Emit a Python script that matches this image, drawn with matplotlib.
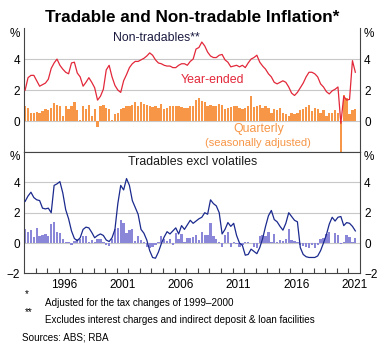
import numpy as np
import matplotlib.pyplot as plt

plt.rcParams['font.family'] = ['Liberation Sans', 'DejaVu Sans']

# quarterly data, 1993 Q1 to 2021 Q3
start_year = 1993
nt_ye = [2.0, 2.8, 2.95, 2.95, 2.6, 2.25, 2.35, 2.45, 2.7, 3.4, 3.75, 4.0,
         3.6, 3.35, 3.15, 3.05, 3.75, 3.8, 3.1, 2.85, 2.25, 2.5, 2.8, 2.5,
         2.15, 1.35, 1.6, 2.05, 3.3, 3.6, 2.85, 2.3, 2.0, 1.85, 2.6, 3.0,
         3.45, 3.7, 3.85, 3.85, 3.95, 4.05, 4.2, 4.4, 4.25, 3.95, 3.75, 3.7,
         3.6, 3.55, 3.55, 3.45, 3.45, 3.6, 3.7, 3.7, 3.6, 3.85, 4.0, 4.65,
         4.75, 5.1, 4.85, 4.45, 4.2, 4.1, 4.1, 4.25, 4.3, 3.95, 3.8, 3.5,
         3.55, 3.6, 3.5, 3.6, 3.45, 3.75, 4.0, 4.1, 4.25, 3.8, 3.55, 3.35,
         3.05, 2.85, 2.5, 2.4, 2.5, 2.6, 2.5, 2.2, 1.8, 1.65, 1.85, 2.15,
         2.45, 2.85, 3.15, 3.15, 3.05, 2.85, 2.4, 2.2, 1.9, 1.75, 1.95, 2.05,
         2.2, -0.15, 1.6, 1.35, 1.4, 3.9, 3.15]
nt_q = [0.95, 0.85, 0.55, 0.55, 0.6, 0.55, 0.65, 0.75, 0.7, 0.85, 1.15, 1.05,
        1.0, 0.35, 0.95, 0.8, 1.0, 1.2, 0.7, 0.05, 1.0, 0.8, 1.05, 0.35,
        0.8, -0.4, 1.0, 1.05, 0.85, 0.8, 0.05, 0.45, 0.55, 0.8, 0.85, 0.95,
        0.95, 1.05, 1.2, 1.0, 1.2, 1.1, 1.05, 0.95, 0.9, 0.95, 0.85, 1.1,
        0.8, 0.85, 0.95, 0.95, 1.0, 0.95, 0.9, 0.85, 0.85, 0.95, 0.95, 1.35,
        1.5, 1.3, 1.2, 0.95, 1.05, 1.0, 0.95, 1.1, 1.05, 0.8, 0.85, 0.9,
        0.95, 0.95, 0.85, 0.8, 0.85, 0.95, 1.6, 0.9, 0.95, 1.05, 0.85, 0.95,
        0.85, 0.5, 0.8, 0.7, 0.85, 0.55, 0.45, 0.3, 0.5, 0.45, 0.55, 0.7,
        0.8, 0.9, 1.05, 0.65, 0.85, 0.75, 0.5, 0.7, 0.35, 0.55, 0.5, 0.7,
        0.55, -3.5, 1.65, 1.5, 0.45, 0.7, 0.8]
tr_ye = [2.75, 3.1, 3.35, 3.0, 2.85, 2.8, 2.3, 2.25, 2.3, 2.0, 3.8, 3.9,
         4.05, 3.3, 2.2, 1.6, 0.8, 0.3, 0.15, 0.35, 0.9, 1.05, 1.0, 0.7,
         0.35, 0.5, 0.6, 0.5, 0.2, 0.1, 0.35, 0.9, 2.6, 3.8, 3.5, 4.25,
         3.8, 2.8, 2.35, 1.9, 0.9, 0.65, 0.2, -0.5, -0.95, -1.0, -0.6, -0.05,
         0.4, 0.75, 0.6, 0.8, 1.0, 0.6, 1.15, 0.9, 1.2, 1.5, 1.3, 1.45,
         1.6, 1.7, 2.0, 1.9, 2.85, 2.6, 2.45, 2.0, 0.6, 0.9, 1.35, 1.1,
         1.3, 0.5, 0.0, -0.15, -0.8, -0.75, -0.4, -0.55, -0.7, -0.3, 0.3, 1.1,
         1.8, 2.15, 1.55, 1.4, 1.1, 0.85, 1.3, 2.0, 1.75, 1.5, 1.4, -0.3,
         -0.75, -0.9, -0.95, -0.95, -0.95, -0.85, -0.5, 0.0, 0.55, 1.25, 1.7, 1.45,
         1.7, 1.75, 1.15, 1.35, 1.3, 1.1, 0.8]
tr_q = [0.9, 0.75, 0.85, 0.4, 1.0, 0.45, 0.5, 0.6, 0.45, 1.25, 1.4, 0.75,
        0.65, 0.3, 0.1, 0.1, -0.1, 0.15, 0.3, 0.3, 0.45, 0.45, 0.1, 0.2,
        0.1, 0.3, 0.25, 0.05, -0.15, -0.2, 0.3, 0.95, 1.0, 1.55, 1.3, 0.65,
        0.85, 0.95, 0.15, 0.45, 0.2, 0.05, -0.25, -0.3, -0.25, -0.15, 0.1, 0.45,
        0.3, 0.15, 0.3, -0.1, 0.65, 0.3, 0.6, 0.1, 0.35, 0.35, 0.4, 0.55,
        0.2, 0.7, 0.5, 0.55, 1.3, 0.45, 0.3, 0.1, -0.25, 0.5, 0.7, -0.25,
        0.1, -0.05, -0.25, -0.15, 0.05, 0.1, 0.0, -0.25, -0.35, 0.45, 0.5, 0.45,
        0.7, 0.05, 0.6, 0.05, 0.2, 0.15, 0.25, 0.95, 0.2, 0.15, 0.1, -0.15,
        -0.2, -0.25, -0.35, -0.15, -0.3, -0.1, 0.3, 0.35, 0.6, 0.7, 0.0, 0.65,
        0.55, -0.05, 0.05, 0.5, 0.4, 0.05, 0.35]

x = start_year + 0.1 + 0.25 * np.arange(len(nt_ye))

red = '#e2283a'
orange = '#f79646'
navy = '#1b2a8e'
purple = '#8b87d8'
grid_c = '#c8c8c8'

fig = plt.figure(figsize=(3.85, 3.56), dpi=100)
ax1 = fig.add_axes([0.0623, 0.573, 0.8727, 0.348])
ax2 = fig.add_axes([0.0623, 0.232, 0.8727, 0.341])

for ax in (ax1, ax2):
    ax.set_xlim(1993, 2022)
    ax.set_ylim(-2, 6)
    for g in (0, 2, 4):
        ax.axhline(g, color=grid_c, lw=0.8, zorder=0)
    ax.spines['top'].set_visible(False)
    for s in ('left', 'right', 'bottom'):
        ax.spines[s].set_color('#444444')
        ax.spines[s].set_linewidth(0.8)
    ax.tick_params(axis='y', length=0, labelleft=True, labelright=True,
                   labelsize=8.5, pad=3)
    ax.text(-0.012, 0.955, '%', transform=ax.transAxes, ha='right', va='center', fontsize=8.5)
    ax.text(1.012, 0.955, '%', transform=ax.transAxes, ha='left', va='center', fontsize=8.5)

# top panel
ax1.bar(x, nt_q, width=0.2, color=orange, zorder=2)
ax1.plot(x, nt_ye, color=red, lw=0.9, zorder=3)
ax1.set_yticks([0, 2, 4])
ax1.set_xticks([])
ax1.text(2004.45, 5.35, 'Non-tradables**', ha='center', va='center', fontsize=8.8, color='#1a1a40')
ax1.text(2009.3, 2.67, 'Year-ended', ha='center', va='center', fontsize=8.9, color=red)
ax1.text(2013.3, -0.53, 'Quarterly', ha='center', va='center', fontsize=8.8, color=orange)
ax1.text(2013.2, -1.42, '(seasonally adjusted)', ha='center', va='center', fontsize=8.0, color=orange)

# bottom panel
ax2.bar(x, tr_q, width=0.2, color=purple, zorder=2)
ax2.plot(x, tr_ye, color=navy, lw=0.9, zorder=3)
ax2.set_yticks([-2, 0, 2, 4])
ax2.spines['top'].set_visible(True)
ax2.spines['top'].set_color('#444444')
ax2.spines['top'].set_linewidth(0.8)
ax2.text(0.501, 0.92, 'Tradables excl volatiles', transform=ax2.transAxes,
         ha='center', va='center', fontsize=8.9, color='#1a1a1a')
ax2.set_xticks(np.arange(1994, 2022), minor=False)
ax2.set_xticklabels([])
ax2.tick_params(axis='x', which='major', direction='in', length=3.5, color='#444444')
ax2.set_xticks(np.arange(1996.5, 2022, 5), minor=True)
ax2.set_xticklabels([str(y) for y in range(1996, 2022, 5)], minor=True)
ax2.tick_params(axis='x', which='minor', length=0, labelsize=8.5, pad=4)

fig.text(0.5, 0.952, 'Tradable and Non-tradable Inflation*', ha='center', va='center',
         fontsize=12.3, fontweight='bold')
fig.text(0.065, 0.175, '*', fontsize=7.1, va='center')
fig.text(0.117, 0.149, 'Adjusted for the tax changes of 1999\u20132000', fontsize=7.1, va='center')
fig.text(0.065, 0.124, '**', fontsize=7.1, va='center')
fig.text(0.117, 0.101, 'Excludes interest charges and indirect deposit & loan facilities', fontsize=7.1, va='center')
fig.text(0.057, 0.051, 'Sources: ABS; RBA', fontsize=7.1, va='center')

fig.savefig('out.png', dpi=100)
